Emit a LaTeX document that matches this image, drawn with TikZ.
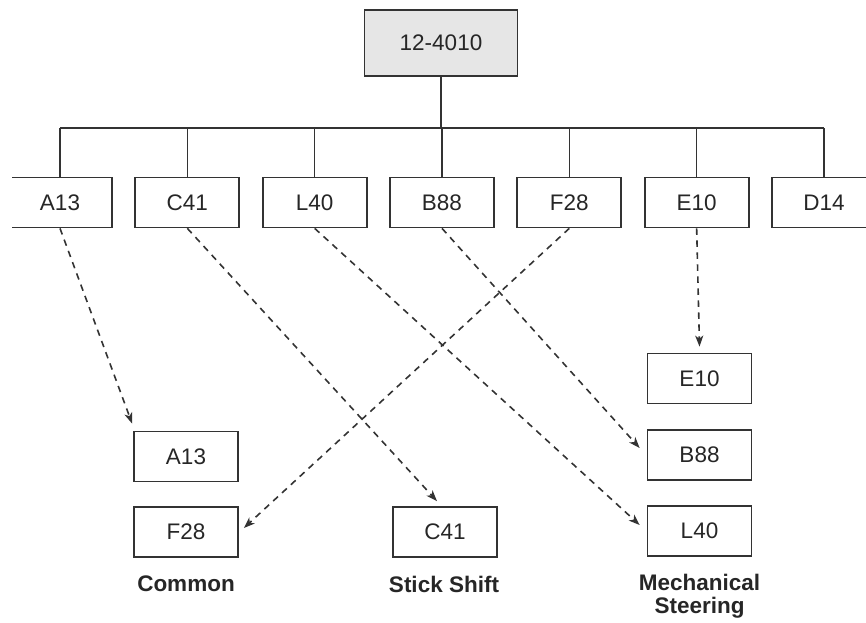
\documentclass[tikz,border=0pt]{standalone}
\usepackage{fontspec}
\setmainfont{Liberation Sans}
\usetikzlibrary{arrows.meta}
\definecolor{ink}{HTML}{333333}
\definecolor{rootfill}{HTML}{E6E6E6}
\begin{document}
\begin{tikzpicture}[x=1pt,y=-1pt,
  box/.style={draw=ink, line width=1.7pt, minimum width=104pt, minimum height=50pt,
    inner sep=0pt, font=\fontsize{22.5}{24}\selectfont, text=black!85},
  root/.style={box, fill=rootfill, minimum width=153pt, minimum height=66pt},
  tree/.style={draw=ink, line width=1.6pt},
  dep/.style={draw=ink, line width=1.6pt, dash pattern=on 6.5pt off 5.5pt,
    -{Stealth[length=11pt,width=8pt,inset=3pt]}},
  group/.style={font=\bfseries\fontsize{22.5}{23}\selectfont, align=center, text=black!85}]
\useasboundingbox (0,0) rectangle (866,622);
\begin{scope}
  \clip (12,0) rectangle (866,622);
  % assembly and its components
  \node[root] (root) at (441,43) {12-4010};
  \foreach \name/\i in {A13/0,C41/1,L40/2,B88/3,F28/4,E10/5,D14/6}
    \node[box] (\name) at ({60+127.33*\i},202.5) {\name};
  % tree connectors
  \coordinate (busL) at (60,128);
  \coordinate (busR) at (824,128);
  \draw[tree] (busL) -- (busR);
  \draw[tree] (root.south) -- (root.south |- busL);
  \foreach \name in {A13,C41,L40,B88,F28,E10,D14}
    \draw[tree] (\name.north) -- (\name.north |- busL);
\end{scope}
% grouped components
\node[box] (A13low) at (186,456.5) {A13};
\node[box] (F28low) at (186,532) {F28};
\node[box] (C41low) at (445,532) {C41};
\node[box] (E10low) at (699.5,378.5) {E10};
\node[box] (B88low) at (699.5,455) {B88};
\node[box] (L40low) at (699.5,531) {L40};
% group captions
\node[group] (common) at (186,584) {Common};
\node[group] (stick) at (444,584) {Stick Shift};
\node[group] (mech) at (699.5,596) {Mechanical\\Steering};
% dashed assignments
\draw[dep] (A13.south) -- ([shift={(-1,-7)}]A13low.north west);
\draw[dep] (C41.south) -- ([shift={(-8,-5)}]C41low.north);
\draw[dep] (L40.south) -- ([shift={(-7,-6)}]L40low.west);
\draw[dep] (B88.south) -- ([shift={(-7,-7)}]B88low.west);
\draw[dep] (F28.south) -- ([shift={(5,-4)}]F28low.east);
\draw[dep] (E10.south) -- ([shift={(0,-6)}]E10low.north);
\end{tikzpicture}
\end{document}
